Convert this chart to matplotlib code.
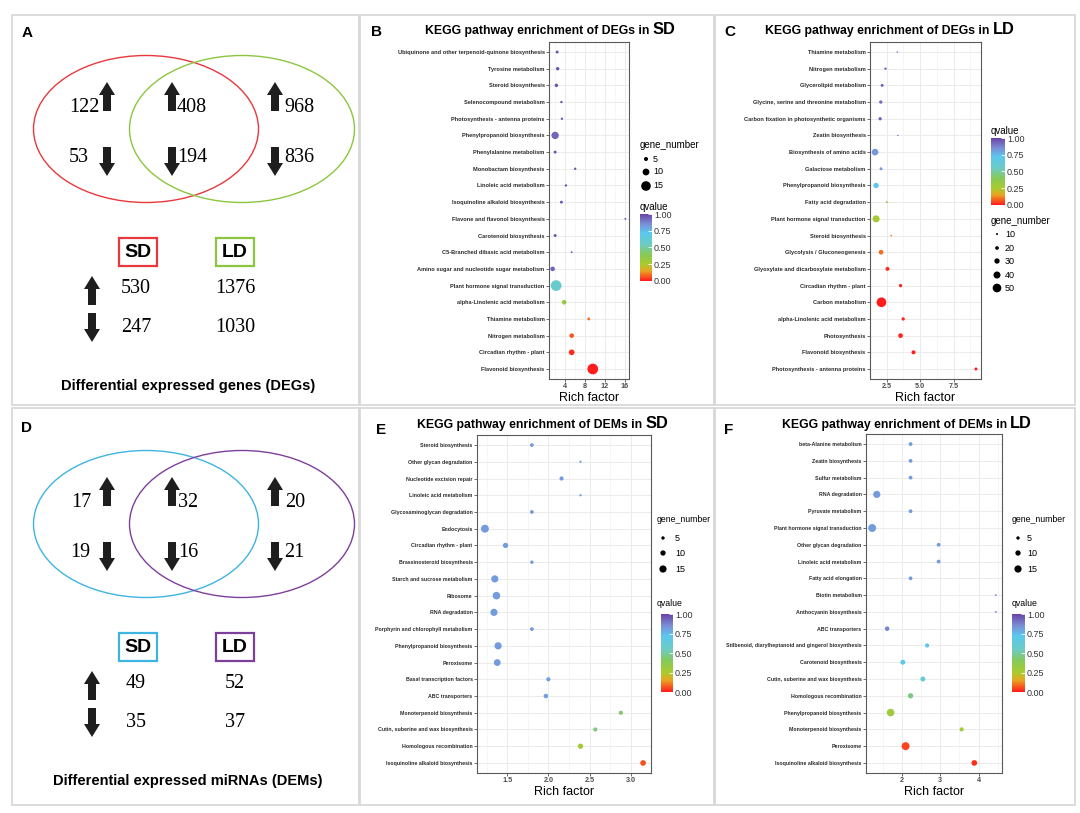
import matplotlib
matplotlib.use('Agg')
import matplotlib.pyplot as plt
import numpy as np
from matplotlib import font_manager
from matplotlib.colors import LinearSegmentedColormap
from matplotlib.patches import Ellipse, Rectangle, Polygon
from matplotlib.ticker import AutoMinorLocator, FormatStrFormatter
from matplotlib.cm import ScalarMappable

plt.rcParams['font.family'] = ['Liberation Sans', 'DejaVu Sans']
names = {f.name for f in font_manager.fontManager.ttflist}
HAS_NARROW = 'Liberation Sans Narrow' in names
NARROW = 'Liberation Sans Narrow' if HAS_NARROW else 'Liberation Sans'
SERIF = 'Liberation Serif'

# ---- Venn counts ----
deg_up = [122, 408, 968]
deg_down = [53, 194, 836]
deg_total_up = [530, 1376]
deg_total_down = [247, 1030]
dem_up = [17, 32, 20]
dem_down = [19, 16, 21]
dem_total_up = [49, 52]
dem_total_down = [35, 37]

# ---- KEGG DEGs in SD ----
b_paths = ['Ubiquinone and other terpenoid-quinone biosynthesis', 'Tyrosine metabolism',
           'Steroid biosynthesis', 'Selenocompound metabolism', 'Photosynthesis - antenna proteins',
           'Phenylpropanoid biosynthesis', 'Phenylalanine metabolism', 'Monobactam biosynthesis',
           'Linoleic acid metabolism', 'Isoquinoline alkaloid biosynthesis',
           'Flavone and flavonol biosynthesis', 'Carotenoid biosynthesis',
           'C5-Branched dibasic acid metabolism', 'Amino sugar and nucleotide sugar metabolism',
           'Plant hormone signal transduction', 'alpha-Linolenic acid metabolism',
           'Thiamine metabolism', 'Nitrogen metabolism', 'Circadian rhythm - plant',
           'Flavonoid biosynthesis']
b_rich = [2.5, 2.6, 2.35, 3.35, 3.45, 2.1, 2.1, 6.1, 4.25, 3.35,
          16.1, 2.1, 5.4, 1.6, 2.3, 3.9, 8.8, 5.4, 5.4, 9.6]
b_genes = [3, 4, 4, 2, 2, 11, 3, 2, 2, 3, 1, 3, 1, 6, 17, 6, 3, 6, 8, 17]
b_q = [0.97, 0.96, 0.97, 0.97, 0.96, 0.93, 0.97, 0.97, 0.97, 0.96,
       0.97, 0.97, 0.97, 0.94, 0.58, 0.33, 0.1, 0.07, 0.02, 0.0]

# ---- KEGG DEGs in LD ----
c_paths = ['Thiamine metabolism', 'Nitrogen metabolism', 'Glycerolipid metabolism',
           'Glycine, serine and threonine metabolism', 'Carbon fixation in photosynthetic organisms',
           'Zeatin biosynthesis', 'Biosynthesis of amino acids', 'Galactose metabolism',
           'Phenylpropanoid biosynthesis', 'Fatty acid degradation',
           'Plant hormone signal transduction', 'Steroid biosynthesis',
           'Glycolysis / Gluconeogenesis', 'Glyoxylate and dicarboxylate metabolism',
           'Circadian rhythm - plant', 'Carbon metabolism', 'alpha-Linolenic acid metabolism',
           'Photosynthesis', 'Flavonoid biosynthesis', 'Photosynthesis - antenna proteins']
c_rich = [3.28, 2.4, 2.15, 2.05, 2.0, 3.33, 1.62, 2.07, 1.7, 2.5,
          1.7, 2.83, 2.07, 2.55, 3.53, 2.1, 3.73, 3.53, 4.5, 9.18]
c_genes = [6, 12, 16, 18, 18, 6, 38, 16, 30, 10, 40, 8, 26, 22, 18, 56, 18, 26, 22, 16]
c_q = [0.98, 0.95, 0.94, 0.92, 0.93, 0.95, 0.83, 0.82, 0.72, 0.3,
       0.27, 0.12, 0.09, 0.02, 0.01, 0.0, 0.01, 0.01, 0.0, 0.0]

# ---- KEGG DEMs in SD ----
e_paths = ['Steroid biosynthesis', 'Other glycan degradation', 'Nucleotide excision repair',
           'Linoleic acid metabolism', 'Glycosaminoglycan degradation', 'Endocytosis',
           'Circadian rhythm - plant', 'Brassinosteroid biosynthesis',
           'Starch and sucrose metabolism', 'Ribosome', 'RNA degradation',
           'Porphyrin and chlorophyll metabolism', 'Phenylpropanoid biosynthesis', 'Peroxisome',
           'Basal transcription factors', 'ABC transporters', 'Monoterpenoid biosynthesis',
           'Cutin, suberine and wax biosynthesis', 'Homologous recombination',
           'Isoquinoline alkaloid biosynthesis']
e_rich = [1.8, 2.39, 2.16, 2.39, 1.8, 1.23, 1.48, 1.8, 1.35, 1.37,
          1.34, 1.8, 1.39, 1.38, 2.0, 1.97, 2.88, 2.57, 2.39, 3.15]
e_genes = [6, 2, 7, 2, 6, 17, 10, 5, 15, 16, 15, 6, 15, 14, 7, 8, 7, 7, 10, 11]
e_q = [0.82, 0.82, 0.82, 0.82, 0.82, 0.82, 0.82, 0.82, 0.82, 0.82,
       0.82, 0.82, 0.82, 0.82, 0.82, 0.82, 0.42, 0.45, 0.28, 0.06]

# ---- KEGG DEMs in LD ----
f_paths = ['beta-Alanine metabolism', 'Zeatin biosynthesis', 'Sulfur metabolism',
           'RNA degradation', 'Pyruvate metabolism', 'Plant hormone signal transduction',
           'Other glycan degradation', 'Linoleic acid metabolism', 'Fatty acid elongation',
           'Biotin metabolism', 'Anthocyanin biosynthesis', 'ABC transporters',
           'Stilbenoid, diarylheptanoid and gingerol biosynthesis', 'Carotenoid biosynthesis',
           'Cutin, suberine and wax biosynthesis', 'Homologous recombination',
           'Phenylpropanoid biosynthesis', 'Monoterpenoid biosynthesis', 'Peroxisome',
           'Isoquinoline alkaloid biosynthesis']
f_rich = [2.23, 2.23, 2.23, 1.35, 2.23, 1.23, 2.96, 2.96, 2.23, 4.45,
          4.45, 1.62, 2.66, 2.03, 2.55, 2.23, 1.71, 3.56, 2.1, 3.89]
f_genes = [6, 6, 6, 15, 6, 17, 6, 6, 6, 1, 1, 8, 7, 9, 9, 10, 16, 7, 17, 11]
f_q = [0.82, 0.82, 0.82, 0.82, 0.82, 0.82, 0.82, 0.82, 0.82, 0.84,
       0.84, 0.87, 0.72, 0.7, 0.6, 0.45, 0.3, 0.28, 0.05, 0.02]

qcmap = LinearSegmentedColormap.from_list('q', [
    (0.0, '#FF1C1C'), (0.08, '#F5621F'), (0.15, '#E8A524'), (0.25, '#A9CB2D'),
    (0.4, '#86C95A'), (0.55, '#6CCBC3'), (0.72, '#5BC8EE'), (0.85, '#7B8FD6'),
    (1.0, '#6A43A6')])

W, H = 1080, 813
fig = plt.figure(figsize=(W / 100, H / 100), dpi=100)
ov = fig.add_axes([0, 0, 1, 1], zorder=0)
ov.set_xlim(0, W)
ov.set_ylim(H, 0)
ov.axis('off')
renderer = fig.canvas.get_renderer()


def px_axes(l, t, r, b, **kw):
    return fig.add_axes([l / W, 1 - b / H, (r - l) / W, (b - t) / H], **kw)


# panel frames
for (l, t, r, b) in [(12, 15, 359, 405), (360, 15, 714, 405), (715, 15, 1075, 405),
                     (12, 408, 359, 805), (360, 408, 714, 805), (715, 408, 1075, 805)]:
    ov.add_patch(Rectangle((l, t), r - l, b - t, fill=False, ec='#D6D6D6', lw=1.2))


def arrow(x, ytop, up=True, length=29):
    hh, hw, sw = 13, 8, 4
    if up:
        pts = [(x, ytop), (x + hw, ytop + hh), (x + sw, ytop + hh), (x + sw, ytop + length),
               (x - sw, ytop + length), (x - sw, ytop + hh), (x - hw, ytop + hh)]
    else:
        yb = ytop + length
        pts = [(x, yb), (x + hw, yb - hh), (x + sw, yb - hh), (x + sw, ytop),
               (x - sw, ytop), (x - sw, yb - hh), (x - hw, yb - hh)]
    ov.add_patch(Polygon(pts, closed=True, fc='#1E1E1E', ec='none'))


def venn(y0, up, down, tot_up, tot_down, c1, c2, caption, letter, num_x_up, num_x_down):
    cy = y0 + 114
    ov.add_patch(Ellipse((146, cy), 225, 147, fill=False, ec=c1, lw=1))
    ov.add_patch(Ellipse((242, cy), 225, 147, fill=False, ec=c2, lw=1))
    ov.text(27, y0 + 18, letter, fontsize=11, fontweight='bold', ha='center', va='center')
    for i, ax_x in enumerate([107, 172, 275]):
        arrow(ax_x, y0 + 67, True)
        arrow(ax_x, y0 + 132, False)
        ov.text(num_x_up[i], y0 + 92, str(up[i]), fontsize=14.5, family=SERIF,
                ha='center', va='center')
        ov.text(num_x_down[i], y0 + 142, str(down[i]), fontsize=14.5, family=SERIF,
                ha='center', va='center')
    # SD / LD boxes
    for (bx, lab, col) in [(119, 'SD', c1), (216, 'LD', c2)]:
        ov.add_patch(Rectangle((bx, y0 + 223), 38, 28, fill=False, ec=col, lw=1.6))
        ov.text(bx + 19, y0 + 237.5, lab, fontsize=14, fontweight='bold',
                ha='center', va='center')
    arrow(92, y0 + 261, True)
    arrow(92, y0 + 298, False)
    for i, tx in enumerate([136, 235]):
        ov.text(tx, y0 + 273, str(tot_up[i]), fontsize=14.5, family=SERIF,
                ha='center', va='center')
        ov.text(tx, y0 + 312, str(tot_down[i]), fontsize=14.5, family=SERIF,
                ha='center', va='center')
    ov.text(188, y0 + 371, caption, fontsize=10.5, fontweight='bold',
            ha='center', va='center')


venn(15, deg_up, deg_down, deg_total_up, deg_total_down, '#E8383D', '#8CC63F',
     'Differential expressed genes (DEGs)', 'A', [84, 192, 299], [79, 192, 299])
venn(410, dem_up, dem_down, dem_total_up, dem_total_down, '#3DB4E2', '#7D3F9C',
     'Differential expressed miRNAs (DEMs)', 'D', [81, 188, 295], [80, 188, 294])


def title(x0, yb, main, tag, letter, lx, ly):
    t1 = ov.text(x0, yb, main, fontsize=8.8, fontweight='bold', va='baseline', ha='left')
    bb = t1.get_window_extent(renderer)
    ov.text(bb.x1 + 3, yb, tag, fontsize=11.8, fontweight='bold', va='baseline', ha='left')
    ov.text(lx, ly, letter, fontsize=11, fontweight='bold', ha='center', va='center')


def bubble(box, paths, rich, genes, q, xticks, xfmt, d_a, d_b, font, lab_fs):
    ax = px_axes(*box)
    n = len(paths)
    y = np.arange(n)[::-1]
    d = d_a + d_b * np.array(genes, dtype=float)
    ax.scatter(rich, y, s=(d * 0.72) ** 2, c=q, cmap=qcmap, vmin=0, vmax=1,
               edgecolors='none', zorder=3)
    ax.set_ylim(-0.6, n - 0.4)
    ax.margins(x=0.05)
    ax.set_yticks(y)
    ax.set_yticklabels(paths, fontsize=lab_fs, fontweight='bold', family=font, color='#2A2A2A')
    ax.set_xticks(xticks)
    ax.xaxis.set_major_formatter(FormatStrFormatter(xfmt))
    ax.xaxis.set_minor_locator(AutoMinorLocator(2))
    for lab in ax.get_xticklabels():
        lab.set_fontsize(5.2)
        lab.set_fontweight('bold')
        lab.set_family(font)
        lab.set_color('#4D4D4D')
    ax.tick_params(axis='both', which='major', length=2, width=0.5, color='#333333', pad=1.2)
    ax.tick_params(axis='x', which='minor', length=0)
    ax.grid(True, which='major', color='#EBEBEB', lw=0.7)
    ax.grid(True, which='minor', axis='x', color='#F2F2F2', lw=0.5)
    ax.set_axisbelow(True)
    for sp in ax.spines.values():
        sp.set_color('#5A5A5A')
        sp.set_linewidth(0.8)
    ax.set_xlabel('Rich factor', fontsize=9, family=font, labelpad=1)
    return ax


def size_legend(x, ytitle, ys, vals, d_a, d_b, font, lx, fs=7):
    ov.text(x, ytitle, 'gene_number', fontsize=fs, family=font, va='center', ha='left')
    for yy, v in zip(ys, vals):
        dd = d_a + d_b * v
        ov.scatter([x + 6], [yy], s=(dd * 0.72) ** 2, color='black', edgecolors='none')
        ov.text(lx, yy, str(v), fontsize=6.5, family=font, va='center', ha='left')


def q_legend(x, ytitle, l, t, r, b, font, fs=7):
    ov.text(x, ytitle, 'qvalue', fontsize=fs, family=font, va='center', ha='left')
    cax = px_axes(l, t, r, b)
    sm = ScalarMappable(cmap=qcmap, norm=plt.Normalize(0, 1))
    cb = fig.colorbar(sm, cax=cax, ticks=[0, 0.25, 0.5, 0.75, 1.0], format='%.2f')
    cb.outline.set_visible(False)
    cax.tick_params(length=3, width=0.6, color='white', direction='in', pad=1.5)
    for lab in cax.get_yticklabels():
        lab.set_fontsize(6.5)
        lab.set_family(font)
        lab.set_color('#333333')


# B
title(425, 34, 'KEGG pathway enrichment of DEGs in', 'SD', 'B', 377, 32)
bubble((549, 42, 629, 379), b_paths, b_rich, b_genes, b_q, [4, 8, 12, 16], '%g',
       1.25, 0.556, 'Liberation Sans', 4.1)
size_legend(640, 145, [159, 172, 186], [5, 10, 15], 1.25, 0.556, 'Liberation Sans', 653)
q_legend(640, 207, 640, 214, 652, 281, 'Liberation Sans')

# C
title(765, 34, 'KEGG pathway enrichment of DEGs in', 'LD', 'C', 730, 32)
bubble((870, 42, 981, 379), c_paths, c_rich, c_genes, c_q, [2.5, 5.0, 7.5], '%.1f',
       0.33, 0.167, 'Liberation Sans', 4.1)
q_legend(991, 131, 991, 138, 1005, 205, 'Liberation Sans')
size_legend(991, 221, [234, 248, 261, 275, 288], [10, 20, 30, 40, 50], 0.33, 0.167,
            'Liberation Sans', 1005)

# E / F labels use a narrow face when present, otherwise a smaller regular one
lab_small = 4.8 if HAS_NARROW else 3.8
leg_fs = 7 if HAS_NARROW else 6.3

# E
title(417, 428, 'KEGG pathway enrichment of DEMs in', 'SD', 'E', 381, 430)
bubble((477, 435, 651, 773), e_paths, e_rich, e_genes, e_q, [1.5, 2.0, 2.5, 3.0], '%.1f',
       1.5, 0.38, NARROW, lab_small)
size_legend(657, 519, [538, 553, 569], [5, 10, 15], 1.5, 0.38, NARROW, 675, leg_fs)
q_legend(657, 603, 661, 614, 673, 692, NARROW, leg_fs)

# F
title(782, 428, 'KEGG pathway enrichment of DEMs in', 'LD', 'F', 729, 430)
bubble((866, 434, 1002, 773), f_paths, f_rich, f_genes, f_q, [2, 3, 4], '%g',
       1.5, 0.38, NARROW, lab_small)
size_legend(1012, 519, [538, 553, 569], [5, 10, 15], 1.5, 0.38, NARROW, 1027, leg_fs)
q_legend(1012, 603, 1012, 614, 1025, 692, NARROW, leg_fs)

fig.savefig('out.png', dpi=100)
